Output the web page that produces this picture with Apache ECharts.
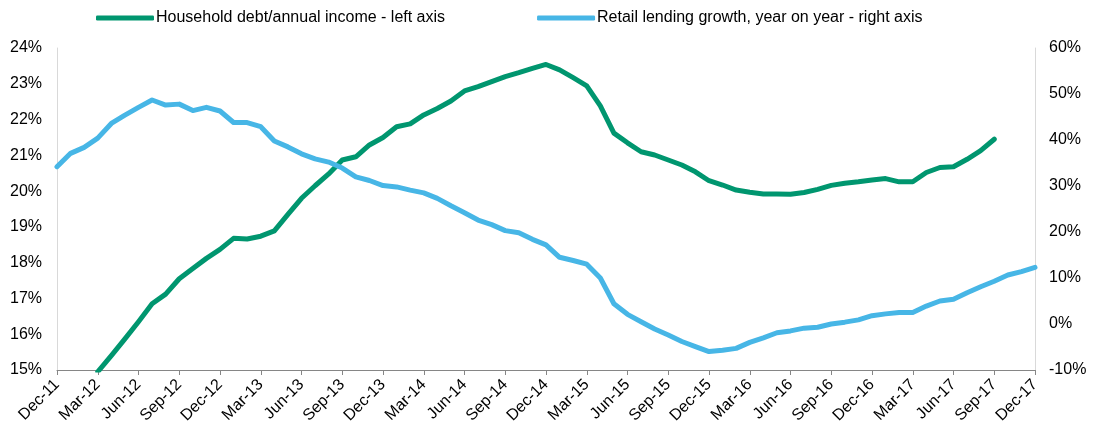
<!DOCTYPE html>
<html>
<head>
<meta charset="utf-8">
<script src="https://cdn.jsdelivr.net/npm/echarts@6/dist/echarts.min.js"></script>
<style>
  html, body { margin: 0; padding: 0; background: #fff; }
  #chart { width: 1099px; height: 428px; }
</style>
</head>
<body>
<div id="chart"></div>
<script>
// monthly, Dec-11 .. Dec-17
var months = [];
(function () {
	var names = ['Jan','Feb','Mar','Apr','May','Jun','Jul','Aug','Sep','Oct','Nov','Dec'];
	for (var y = 11; y <= 17; y++) {
		for (var m = 0; m < 12; m++) {
			if (y === 11 && m < 11) continue;
			months.push(names[m] + '-' + y);
		}
	}
})();

var leftTicks = [15, 24, 1];    // min, max, step (%)
var rightTicks = [-10, 60, 10];

// household debt / annual income (%), left axis
var debtIncome = [
	null, null, null, 14.95, 15.40, 15.87, 16.35, 16.85, 17.12, 17.55,
	17.84, 18.12, 18.37, 18.68, 18.66, 18.74, 18.89, 19.35, 19.80, 20.15,
	20.48, 20.87, 20.96, 21.29, 21.50, 21.80, 21.88, 22.13, 22.31, 22.52,
	22.80, 22.92, 23.06, 23.20, 23.31, 23.43, 23.54, 23.39, 23.17, 22.94,
	22.38, 21.62, 21.35, 21.10, 21.01, 20.87, 20.73, 20.54, 20.29, 20.17,
	20.03, 19.97, 19.92, 19.92, 19.91, 19.96, 20.05, 20.16, 20.22, 20.26,
	20.31, 20.35, 20.26, 20.26, 20.52, 20.66, 20.68, 20.89, 21.13, 21.45,
	null, null, null
];

// retail lending growth y/y (%), right axis
var lendingGrowth = [
	34.2, 37.1, 38.4, 40.4, 43.6, 45.4, 47.1, 48.7, 47.6, 47.8,
	46.4, 47.1, 46.3, 43.8, 43.8, 42.9, 39.8, 38.5, 37.0, 35.9,
	35.2, 33.9, 32.0, 31.2, 30.1, 29.8, 29.1, 28.5, 27.3, 25.7,
	24.2, 22.6, 21.6, 20.3, 19.85, 18.4, 17.2, 14.5, 13.8, 13.0,
	10.0, 4.4, 2.1, 0.5, -1.1, -2.4, -3.8, -4.9, -6.0, -5.7,
	-5.3, -4.0, -3.0, -1.9, -1.5, -0.9, -0.7, 0.0, 0.4, 0.9,
	1.8, 2.2, 2.5, 2.5, 3.9, 5.0, 5.4, 6.8, 8.1, 9.3,
	10.65, 11.4, 12.3
];

var seriesNames = ['Household debt/annual income - left axis', 'Retail lending growth, year on year - right axis'];

var FONT = '"Liberation Sans", Arial, sans-serif';
var GREEN = '#00966F';
var BLUE = '#47B6E6';

var myChart = echarts.init(document.getElementById('chart'));
var option = {
	animation: false,
	color: [GREEN, BLUE],
	legend: {
		left: 91,
		top: 5,
		icon: 'roundRect',
		itemWidth: 58,
		itemHeight: 5,
		itemGap: 92,
		textStyle: { fontFamily: FONT, fontSize: 16, color: '#000', padding: [0, 0, 0, -3] },
		data: seriesNames
	},
	grid: {
		left: 57,
		right: 64,
		top: 48,
		bottom: 58,
		containLabel: false
	},
	xAxis: {
		type: 'category',
		data: months,
		boundaryGap: false,
		axisLine: { onZero: false, lineStyle: { color: '#868686', width: 1 } },
		axisTick: { interval: 2, length: 5, lineStyle: { color: '#868686' } },
		axisLabel: {
			interval: 2,
			rotate: 45,
			margin: 12,
			fontFamily: FONT,
			fontSize: 16,
			color: '#000'
		},
		splitLine: { show: false }
	},
	yAxis: [{
		type: 'value',
		min: leftTicks[0],
		max: leftTicks[1],
		interval: leftTicks[2],
		axisLine: { show: true, lineStyle: { color: '#D9D9D9' } },
		axisTick: { show: false },
		axisLabel: {
			formatter: '{value}%',
			margin: 15,
			fontFamily: FONT,
			fontSize: 16,
			color: '#000'
		},
		splitLine: { show: false }
	}, {
		type: 'value',
		position: 'right',
		min: rightTicks[0],
		max: rightTicks[1],
		interval: rightTicks[2],
		axisLine: { show: true, lineStyle: { color: '#D9D9D9' } },
		axisTick: { show: false },
		axisLabel: {
			formatter: '{value}%',
			margin: 14,
			fontFamily: FONT,
			fontSize: 16,
			color: '#000'
		},
		splitLine: { show: false }
	}],
	series: [{
		name: seriesNames[0],
		type: 'line',
		yAxisIndex: 0,
		data: debtIncome,
		symbol: 'none',
		clip: true,
		lineStyle: { width: 5, color: GREEN, cap: 'round', join: 'round' }
	}, {
		name: seriesNames[1],
		type: 'line',
		yAxisIndex: 1,
		data: lendingGrowth,
		symbol: 'none',
		clip: true,
		lineStyle: { width: 5, color: BLUE, cap: 'round', join: 'round' }
	}]
};
myChart.setOption(option, true);
</script>
</body>
</html>
